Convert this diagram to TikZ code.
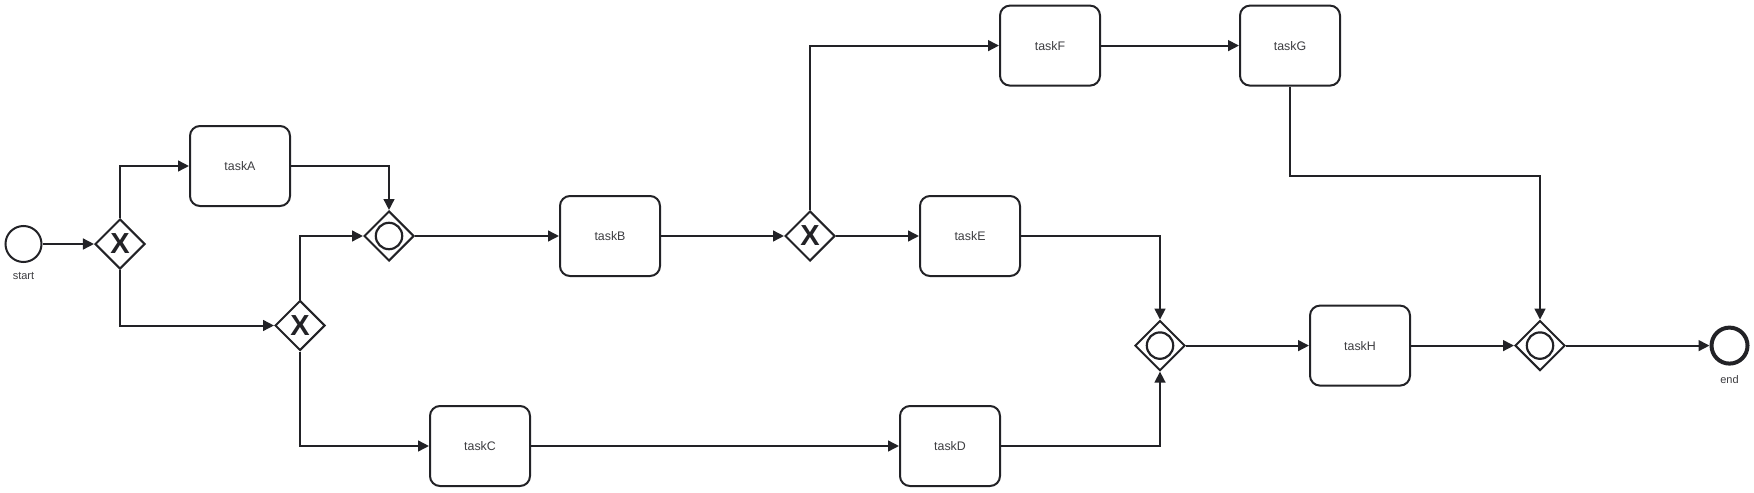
\documentclass[tikz,border=0pt]{standalone}
\usepackage{fontspec}
\setmainfont{Liberation Sans}
\usetikzlibrary{shapes.geometric,arrows.meta}

\definecolor{flowline}{RGB}{34,34,38}
\definecolor{tasktext}{RGB}{60,60,64}

\tikzset{
  task/.style={draw=flowline, line width=1pt, rounded corners=5pt, minimum width=50pt, minimum height=40pt, inner sep=0pt, font=\fontsize{6.2}{8}\selectfont, text=tasktext},
  gateway/.style={draw=flowline, diamond, aspect=1, line width=1pt, minimum width=25pt, minimum height=25pt, inner sep=0pt},
  xorgate/.style={gateway, font=\fontsize{14.5}{14.5}\selectfont\bfseries, text=flowline},
  orgate/.style={gateway, path picture={\draw[flowline, line width=1.1pt] (path picture bounding box.center) circle (6.6pt);}},
  startevent/.style={circle, draw=flowline, line width=1pt, minimum size=18pt, inner sep=0pt},
  endevent/.style={startevent, line width=2pt},
  eventlabel/.style={font=\fontsize{5.5}{7}\selectfont, text=tasktext},
  flow/.style={draw=flowline, line width=1pt, -{Triangle[length=5.5pt,width=5.4pt]}},
}

\begin{document}
\begin{tikzpicture}[x=0.5pt,y=0.5pt,yscale=-1,xscale=1]
\useasboundingbox (0,0) rectangle (1754,492);

% Events
\node[startevent, label={[eventlabel, label distance=1.2pt]below:start}] (start) at (23.5,244) {};
\node[endevent, label={[eventlabel, label distance=1.2pt]below:end}] (end) at (1729.5,345.6) {};

% Gateways
\node[xorgate] (g1) at (120,244) {X};
\node[xorgate] (g2) at (300,325.5) {X};
\node[orgate] (m1) at (389,236) {};
\node[xorgate] (g3) at (810,236) {X};
\node[orgate] (m2) at (1160,345.6) {};
\node[orgate] (m3) at (1540,345.6) {};

% Tasks
\node[task] (taskA) at (240,166) {taskA};
\node[task] (taskB) at (610,236) {taskB};
\node[task] (taskC) at (480,446) {taskC};
\node[task] (taskD) at (950,446) {taskD};
\node[task] (taskE) at (970,236) {taskE};
\node[task] (taskF) at (1050,45.6) {taskF};
\node[task] (taskG) at (1290,45.6) {taskG};
\node[task] (taskH) at (1360,345.6) {taskH};

\coordinate (gbend) at (1290,175.6);

% Sequence flows
\draw[flow] (start) -- (g1);
\draw[flow] (g1.north) |- (taskA.west);
\draw[flow] (g1.south) |- (g2.west);
\draw[flow] (taskA.east) -| (m1.north);
\draw[flow] (g2.north) |- (m1.west);
\draw[flow] (g2.south) |- (taskC.west);
\draw[flow] (m1) -- (taskB);
\draw[flow] (taskB) -- (g3);
\draw[flow] (g3.north) |- (taskF.west);
\draw[flow] (g3) -- (taskE);
\draw[flow] (taskF) -- (taskG);
\draw[flow] (taskG.south) -- (gbend) -| (m3.north);
\draw[flow] (taskE.east) -| (m2.north);
\draw[flow] (taskC) -- (taskD);
\draw[flow] (taskD.east) -| (m2.south);
\draw[flow] (m2) -- (taskH);
\draw[flow] (taskH) -- (m3);
\draw[flow] (m3) -- (end);
\end{tikzpicture}
\end{document}
